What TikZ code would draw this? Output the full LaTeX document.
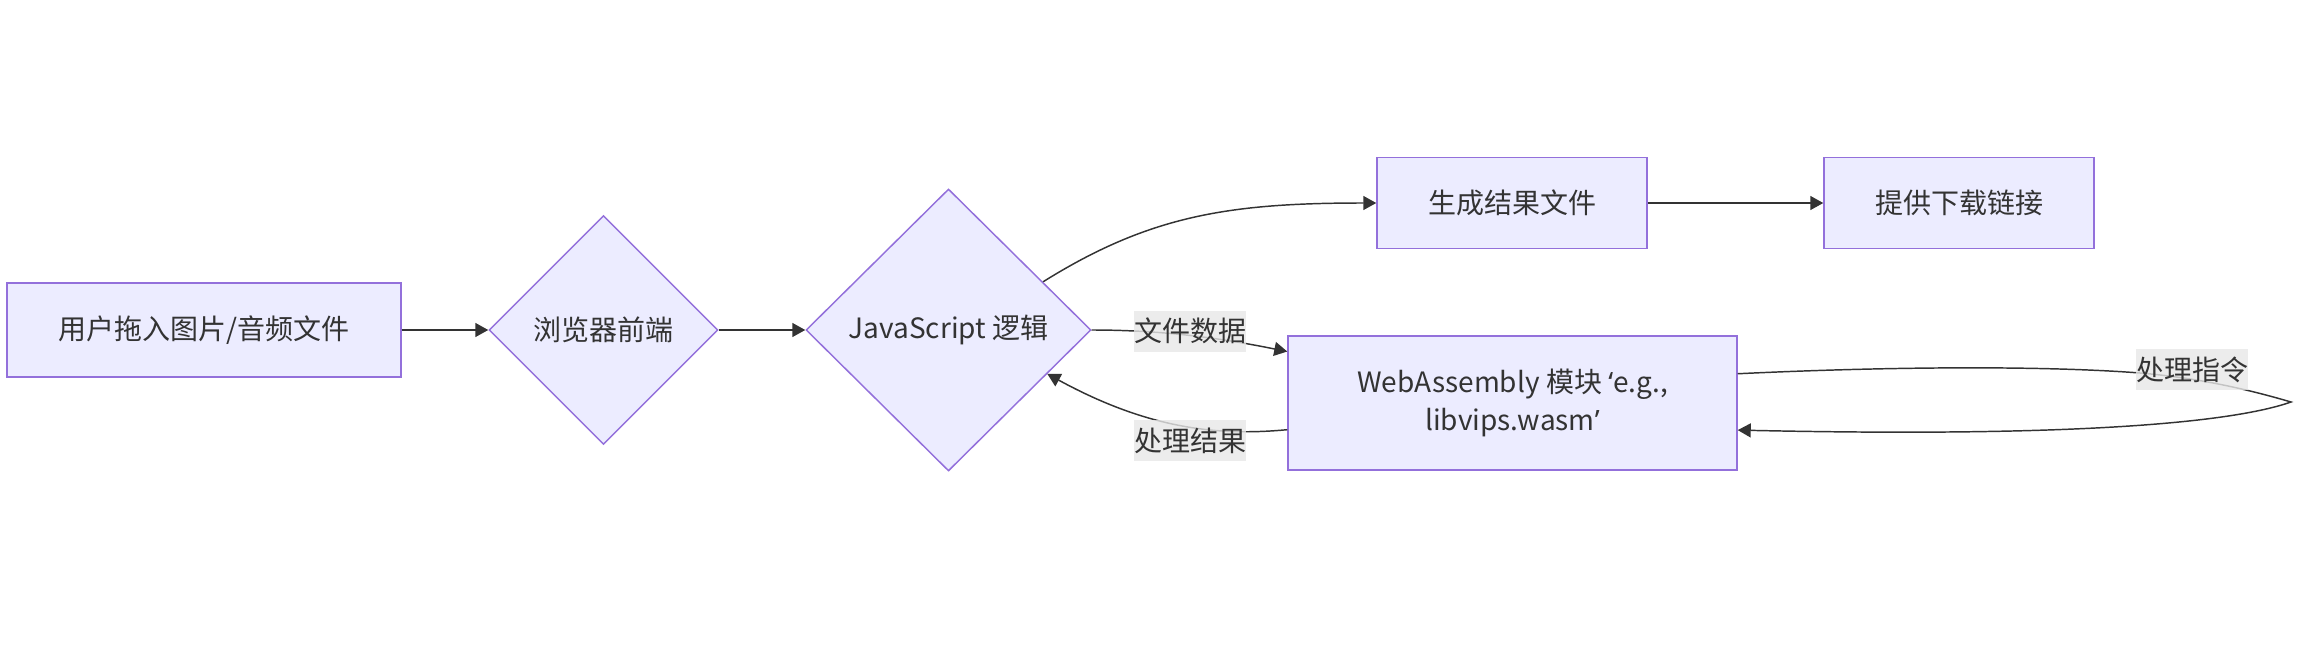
\documentclass[tikz,border=0pt]{standalone}
\usepackage{fontspec}
\setmainfont{Noto Sans CJK SC}
\newfontfamily\latinq{Noto Sans}
\usetikzlibrary{shapes.geometric,arrows.meta,calc}
\definecolor{nodefill}{HTML}{ECECFF}
\definecolor{nodeline}{HTML}{9370DB}
\definecolor{edgeline}{HTML}{333333}
\definecolor{labelbg}{HTML}{E8E8E8}
\begin{document}
\begin{tikzpicture}[x=0.75pt,y=-0.75pt,
  font=\fontsize{21pt}{29pt}\selectfont, text=edgeline,
  box/.style={draw=nodeline, fill=nodefill, line width=1.1pt, rectangle, inner sep=0pt},
  dia/.style={draw=nodeline, fill=nodefill, line width=1.1pt, diamond, aspect=1, inner sep=0pt},
  lbl/.style={fill=labelbg, fill opacity=0.8, text opacity=1, inner xsep=0pt, inner ysep=0pt,
              minimum height=30.75pt, minimum width=82.5pt},
  conn/.style={draw=edgeline, line width=1.1pt, -{Triangle[length=9.75pt,width=10.5pt]}}]
\fill[white] (0,0) rectangle (2302,650);
\useasboundingbox (0,0) rectangle (2302,650);

\node[box, minimum width=295.5pt, minimum height=70.5pt] (A) at (204,330) {用户拖入图片/音频文件};
\node[dia, minimum width=171.75pt, minimum height=171.75pt] (B) at (603.5,330) {浏览器前端};
\node[dia, minimum width=213.75pt, minimum height=211.5pt] (C) at (948.5,330) {JavaScript 逻辑};
\node[box, minimum width=202.5pt, minimum height=68.25pt] (D) at (1512,203) {生成结果文件};
\node[box, minimum width=202.5pt, minimum height=68.25pt] (E) at (1959,203) {提供下载链接};
\node[box, minimum width=336.75pt, minimum height=100.5pt, align=center] (F) at (1512.5,403)
  {WebAssembly 模块 {\latinq ‘}e.g.,\\libvips.wasm{\latinq ’}};

\draw[conn] (A.east) -- (B.west);
\draw[conn] (B.east) -- (C.west);
\draw[conn] ($(C.east)!0.34!(C.north)$) .. controls (1150,215) and (1230,203) .. (D.west);
\draw[conn] (D.east) -- (E.west);
\draw[conn] (C.east) .. controls (1170,330) and (1230,340) .. ($(F.north west)!0.12!(F.south west)$);
\draw[conn] ($(F.north west)!0.697!(F.south west)$) .. controls (1220,436) and (1150,430) .. ($(C.east)!0.31!(C.south)$);
\draw[conn] ($(F.north east)!0.284!(F.south east)$) .. controls (1900,366) and (2050,366) .. (2140,373)
   .. controls (2200,378) and (2250,390) .. (2291,402)
   .. controls (2240,420) and (2100,438) .. ($(F.north east)!0.70!(F.south east)$);

\node[lbl] (L1) at (1190,331) {文件数据};
\node[lbl] (L2) at (1190,440.5) {处理结果};
\node[lbl] (L3) at (2192,369.5) {处理指令};
\end{tikzpicture}
\end{document}
